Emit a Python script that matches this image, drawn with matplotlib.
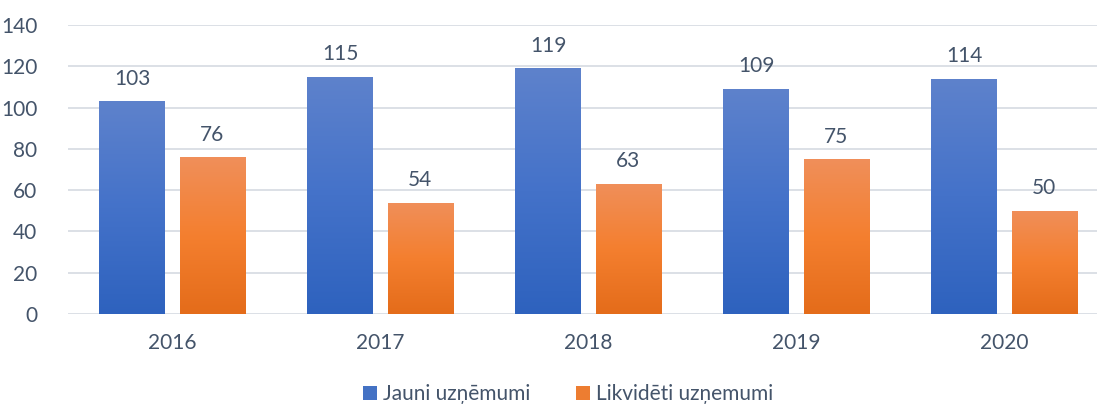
import matplotlib
matplotlib.use("Agg")
import matplotlib.pyplot as plt
import numpy as np
from matplotlib.colors import LinearSegmentedColormap
from matplotlib.patches import Patch

years = ["2016", "2017", "2018", "2019", "2020"]
jauni = [103, 115, 119, 109, 114]
likvideti = [76, 54, 63, 75, 50]
series_names = ["Jauni uzņēmumi", "Likvidēti uzņemumi"]

plt.rcParams['font.family'] = ['Lato', 'DejaVu Sans']
text_color = "#44546a"
grid_color = "#d9dde4"
fs = 15

fig = plt.figure(figsize=(10.97, 4.07), dpi=100)
ax = fig.add_axes([68/1097, 1-314/407, (1097-68)/1097, (314-25)/407])

x = np.arange(len(years))
w = 0.3125
off = 0.1925

blue_cmap = LinearSegmentedColormap.from_list("b", ["#2e62be", "#4472c9", "#5e82cc"])
orange_cmap = LinearSegmentedColormap.from_list("o", ["#e46c1a", "#f47f2f", "#f08f5a"])

b1 = ax.bar(x - off, jauni, w, color="#4472c4", zorder=2)
b2 = ax.bar(x + off, likvideti, w, color="#ed7d31", zorder=2)

grad = np.linspace(0, 1, 256).reshape(-1, 1)
for bars, cmap in ((b1, blue_cmap), (b2, orange_cmap)):
    for p in bars:
        x0, y0 = p.get_x(), p.get_y()
        ww, hh = p.get_width(), p.get_height()
        im = ax.imshow(grad, cmap=cmap, origin="lower", aspect="auto",
                       extent=[x0, x0 + ww, y0, y0 + hh], zorder=3)
        im.set_clip_path(p)

for bars, vals in ((b1, jauni), (b2, likvideti)):
    for p, v in zip(bars, vals):
        ax.annotate(str(v), (p.get_x() + p.get_width()/2, v), xytext=(0, 9),
                    textcoords="offset points", ha="center", va="bottom",
                    fontsize=fs, color=text_color)

ax.set_xlim(-0.5, 4.447)
ax.set_ylim(0, 140)
ax.set_yticks(range(0, 141, 20))
ax.set_xticks(x)
ax.set_xticklabels(years)
ax.tick_params(axis="both", length=0, labelsize=fs, labelcolor=text_color)
ax.tick_params(axis="x", pad=14)
ax.tick_params(axis="y", pad=22)
ax.yaxis.grid(True, color=grid_color, linewidth=1.3, zorder=0)
ax.set_axisbelow(True)
for s in ax.spines.values():
    s.set_visible(False)

handles = [Patch(facecolor="#4472c4"), Patch(facecolor="#ed7d31")]
fig.legend(handles, series_names, loc="center", bbox_to_anchor=(568/1097, 1-394/407),
           ncol=2, frameon=False, fontsize=fs, labelcolor=text_color,
           handlelength=0.65, handleheight=0.65, handletextpad=0.3, columnspacing=2.2)

fig.savefig("out.png", dpi=100)
